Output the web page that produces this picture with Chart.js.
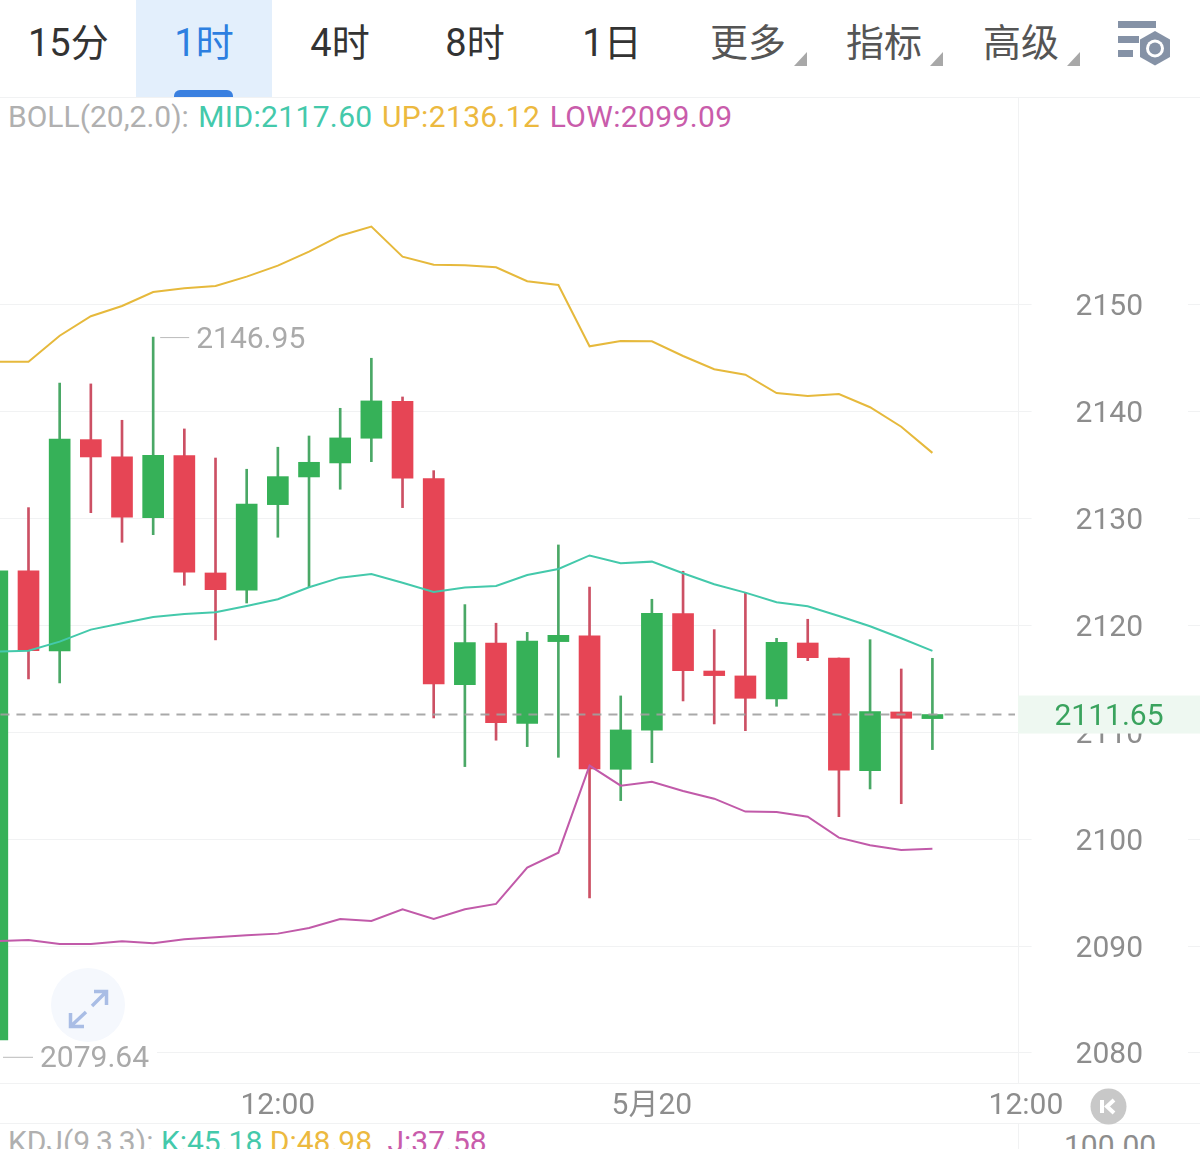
<!DOCTYPE html>
<html>
<head>
<meta charset="utf-8">
<title>1时 K线</title>
<script src="https://cdn.jsdelivr.net/npm/chart.js@4"></script>
<style>
    html, body { margin: 0; padding: 0; background: #fff; width: 1200px; height: 1149px; overflow: hidden; }
    body { position: relative; font-family: Roboto, "Noto Sans CJK SC", sans-serif; }
    .tab { position: absolute; top: 0; height: 86px; line-height: 86px; font-size: 38px; color: #333; text-align: center; white-space: nowrap; }
    .tab.more { color: #555; }
    .selected { position: absolute; left: 136px; top: 0; width: 136px; height: 97px; background: #e3effc; }
    .underline { position: absolute; left: 174px; top: 90px; width: 59px; height: 7px; background: #3a80e0; border-radius: 6px 6px 0 0; }
    .corner { position: absolute; top: 52px; width: 0; height: 0; border-left: 13px solid transparent; border-bottom: 14px solid #a8a8a8; }
    .hline { position: absolute; left: 0; width: 1200px; height: 1px; background: #f1f2f3; }
    .vline { position: absolute; left: 1018px; width: 1px; background: #f1f2f3; }
    .info { position: absolute; left: 8px; font-size: 30px; line-height: 36px; white-space: nowrap; color: #b0b0b0; }
    .boll span { letter-spacing: 0.35px; margin-left: 2px; }
    #chartBox { position: absolute; left: 0; top: 98px; width: 1200px; height: 1025px; }
    svg { position: absolute; }
</style>
</head>
<body>
<div class="selected"></div>
<div class="underline"></div>
<div class="tab" style="left:28px;width:79px">15分</div>
<div class="tab" style="left:174px;width:60px;color:#2d7fe0">1时</div>
<div class="tab" style="left:310px;width:60px">4时</div>
<div class="tab" style="left:445px;width:60px">8时</div>
<div class="tab" style="left:582px;width:60px">1日</div>
<div class="tab more" style="left:710px;width:76px">更多</div>
<div class="tab more" style="left:846px;width:76px">指标</div>
<div class="tab more" style="left:983px;width:76px">高级</div>
<div class="corner" style="left:794px"></div>
<div class="corner" style="left:930px"></div>
<div class="corner" style="left:1067px"></div>
<svg style="left:1110px;top:14px" width="70" height="60" viewBox="1110 14 70 60">
    <rect x="1118" y="21" width="38" height="7" fill="#8592a6"/>
    <rect x="1118" y="36" width="21" height="7" fill="#8592a6"/>
    <rect x="1118" y="50" width="15" height="7" fill="#8592a6"/>
    <polygon points="1155,31 1170,39.5 1170,57 1155,65.5 1140,57 1140,39.5" fill="#8592a6"/>
    <circle cx="1155" cy="48.5" r="9" fill="#fff"/>
    <circle cx="1155" cy="48.5" r="6" fill="#8592a6"/>
</svg>

<div class="hline" style="top:97px"></div>
<div class="hline" style="top:1083px"></div>
<div class="hline" style="top:1123px"></div>
<div class="vline" style="top:98px;height:985px"></div>
<div class="vline" style="top:1124px;height:25px"></div>

<div class="info boll" style="top:99px">BOLL(20,2.0): <span style="color:#44c9ab">MID:2117.60</span> <span style="color:#ecb93f">UP:2136.12</span> <span style="color:#c95cab">LOW:2099.09</span></div>
<div class="info" style="top:1124px">KDJ(9,3,3): <span style="color:#44c9ab">K:45.18</span> <span style="color:#ecb93f">D:48.98</span> <span style="color:#c95cab;margin-left:8px">J:37.58</span></div>
<div class="info" style="left:1064px;top:1128px;color:#8d8d8d">100.00</div>

<div id="chartBox"><canvas id="kline" width="1200" height="1025"></canvas></div>

<svg style="left:50px;top:967px" width="76" height="76" viewBox="50 967 76 76">
    <circle cx="88" cy="1005" r="37" fill="#f5f8fd"/>
    <path d="M92 1006 L106 992 M94 991.5 L106.5 991.5 L106.5 1005" stroke="#a9bde5" stroke-width="3.5" fill="none"/>
    <path d="M86 1012 L71 1026 M70.5 1013 L70.5 1026.5 L84 1026.5" stroke="#a9bde5" stroke-width="3.5" fill="none"/>
</svg>
<svg style="left:1090px;top:1088px" width="37" height="37" viewBox="1090 1088 37 37">
    <circle cx="1108.5" cy="1106.5" r="18" fill="#c8c8c8"/>
    <path d="M1102 1100 L1102 1113 M1114 1100 L1107 1106.5 L1114 1113" stroke="#fff" stroke-width="4" fill="none"/>
</svg>

<script>
// candle positions, 0 is the one cut off at the left edge
const candleIndex = [0, 1, 2, 3, 4, 5, 6, 7, 8, 9, 10, 11, 12, 13, 14, 15, 16, 17, 18, 19, 20, 21, 22, 23, 24, 25, 26, 27, 28, 29, 30];

const opens = [2081.22, 2125.08, 2117.60, 2137.36, 2135.74, 2130.06, 2135.86, 2124.89, 2123.27, 2131.28, 2133.87, 2135.18, 2137.49, 2140.95, 2133.71, 2114.44, 2118.34, 2110.83, 2118.47, 2119.00, 2106.53, 2110.18, 2121.08, 2115.72, 2115.26, 2113.11, 2118.34, 2116.94, 2106.40, 2111.89, 2111.27];
const closes = [2125.08, 2117.62, 2137.42, 2135.74, 2130.10, 2135.90, 2124.96, 2123.33, 2131.34, 2133.90, 2135.24, 2137.52, 2140.98, 2133.75, 2114.51, 2118.37, 2110.89, 2118.53, 2119.06, 2106.56, 2110.21, 2121.12, 2115.75, 2115.29, 2113.17, 2118.41, 2116.97, 2106.44, 2111.92, 2111.30, 2111.65];
const highs = [2125.50, 2131.00, 2142.66, 2142.57, 2139.17, 2146.95, 2138.36, 2135.64, 2134.59, 2136.65, 2137.70, 2140.29, 2144.97, 2141.35, 2134.46, 2121.93, 2120.19, 2119.34, 2127.51, 2123.58, 2113.39, 2122.43, 2125.05, 2119.59, 2123.05, 2118.78, 2120.56, 2116.94, 2118.65, 2115.91, 2116.91];
const lows = [2079.64, 2114.98, 2114.60, 2130.53, 2127.76, 2128.47, 2123.74, 2118.63, 2122.08, 2128.23, 2123.61, 2132.72, 2135.30, 2131.00, 2111.33, 2106.78, 2109.25, 2108.65, 2107.65, 2094.50, 2103.60, 2107.15, 2112.92, 2110.77, 2110.14, 2112.42, 2116.69, 2102.10, 2104.69, 2103.31, 2108.37];

const bollMid = [2117.53, 2117.62, 2118.47, 2119.59, 2120.19, 2120.78, 2121.06, 2121.21, 2121.80, 2122.43, 2123.55, 2124.45, 2124.80, 2123.98, 2123.11, 2123.52, 2123.67, 2124.70, 2125.26, 2126.53, 2125.80, 2125.95, 2124.86, 2123.83, 2123.05, 2122.15, 2121.78, 2120.87, 2119.91, 2118.78, 2117.60];
const bollUp = [2144.65, 2144.65, 2147.08, 2148.90, 2149.86, 2151.17, 2151.52, 2151.73, 2152.60, 2153.63, 2154.94, 2156.43, 2157.28, 2154.47, 2153.72, 2153.67, 2153.48, 2152.17, 2151.82, 2146.09, 2146.59, 2146.56, 2145.18, 2143.94, 2143.43, 2141.72, 2141.44, 2141.63, 2140.39, 2138.57, 2136.12];
const bollLow = [2090.47, 2090.57, 2090.19, 2090.19, 2090.45, 2090.26, 2090.63, 2090.82, 2091.01, 2091.16, 2091.69, 2092.53, 2092.35, 2093.44, 2092.53, 2093.44, 2093.94, 2097.33, 2098.73, 2106.87, 2105.00, 2105.37, 2104.50, 2103.78, 2102.57, 2102.54, 2102.10, 2100.14, 2099.43, 2098.98, 2099.09];

const priceTicks = [2080, 2090, 2100, 2110, 2120, 2130, 2140, 2150];
const timeTicks = [9, 21, 33];
const timeLabels = ['12:00', '5月20', '12:00'];
const lastPrice = 2111.65;
const maxMark = { index: 5, value: 2146.95 };
const minMark = { index: 0, value: 2079.64 };

const RED = '#e64555';
const GREEN = '#36b158';
const WICK_RED = '#cc5064';
const WICK_GREEN = '#4aa866';
const labelFont = { family: 'Roboto, "Noto Sans CJK SC", sans-serif', size: 30 };

const isUp = candleIndex.map(i => closes[i] >= opens[i]);

// max / min labels and the last price box
const overlay = {
    id: 'overlay',
    afterDraw(chart) {
        const ctx = chart.ctx;
        const x = chart.scales.x;
        const y = chart.scales.y;
        ctx.save();
        ctx.font = '30px Roboto, "Noto Sans CJK SC", sans-serif';
        ctx.textBaseline = 'middle';

        const yMax = y.getPixelForValue(maxMark.value);
        const xMax = x.getPixelForValue(maxMark.index);
        ctx.strokeStyle = '#bbbbbb';
        ctx.lineWidth = 1;
        ctx.beginPath();
        ctx.moveTo(xMax + 7, yMax + 0.5);
        ctx.lineTo(xMax + 36, yMax + 0.5);
        ctx.stroke();
        ctx.fillStyle = '#aaaaaa';
        ctx.fillText(maxMark.value.toFixed(2), xMax + 43, yMax + 3);

        const yMin = y.getPixelForValue(minMark.value);
        ctx.fillStyle = '#ffffff';
        ctx.fillRect(0, yMin - 15, 157, 30);
        ctx.beginPath();
        ctx.moveTo(3, yMin + 0.5);
        ctx.lineTo(33, yMin + 0.5);
        ctx.stroke();
        ctx.fillStyle = '#aaaaaa';
        ctx.fillText(minMark.value.toFixed(2), 40, yMin + 3);

        const yLast = y.getPixelForValue(lastPrice);
        ctx.fillStyle = '#eef8f1';
        ctx.fillRect(1018, yLast - 19, 182, 38);
        ctx.fillStyle = '#3aa35e';
        ctx.textAlign = 'center';
        ctx.fillText(lastPrice.toFixed(2), 1109, yLast + 3);
        ctx.restore();
    }
};

new Chart(document.getElementById('kline'), {
    type: 'bar',
    plugins: [overlay],
    data: {
        datasets: [
            {
                type: 'line',
                label: 'last',
                data: [{ x: 0.1, y: lastPrice }, { x: 32.65, y: lastPrice }],
                borderColor: 'rgba(160, 160, 160, 0.9)',
                borderWidth: 2,
                borderDash: [9, 7],
                pointRadius: 0,
                order: 0
            },
            {
                type: 'line',
                label: 'MID',
                data: candleIndex.map(i => ({ x: i, y: bollMid[i] })),
                borderColor: '#44c9ab',
                borderWidth: 2,
                pointRadius: 0,
                tension: 0,
                order: 1
            },
            {
                type: 'line',
                label: 'UP',
                data: candleIndex.map(i => ({ x: i, y: bollUp[i] })),
                borderColor: '#e6b93c',
                borderWidth: 2,
                pointRadius: 0,
                tension: 0,
                order: 1
            },
            {
                type: 'line',
                label: 'LOW',
                data: candleIndex.map(i => ({ x: i, y: bollLow[i] })),
                borderColor: '#c15aa9',
                borderWidth: 2,
                pointRadius: 0,
                tension: 0,
                order: 1
            },
            {
                label: 'body',
                data: candleIndex.map(i => ({ x: i, y: [opens[i], closes[i]] })),
                backgroundColor: isUp.map(up => up ? GREEN : RED),
                barThickness: 21,
                grouped: false,
                order: 2
            },
            {
                label: 'wick',
                data: candleIndex.map(i => ({ x: i, y: [lows[i], highs[i]] })),
                backgroundColor: isUp.map(up => up ? WICK_GREEN : WICK_RED),
                barThickness: 2,
                grouped: false,
                order: 3
            }
        ]
    },
    options: {
        responsive: false,
        animation: false,
        events: [],
        layout: { padding: 0 },
        plugins: {
            legend: { display: false },
            tooltip: { enabled: false }
        },
        scales: {
            x: {
                type: 'linear',
                offset: false,
                min: 0.0857,
                max: 38.585,
                grid: { display: false },
                border: { display: false },
                afterBuildTicks: axis => {
                    axis.ticks = timeTicks.map(v => ({ value: v }));
                },
                afterFit: axis => {
                    axis.height = 40;
                    axis.paddingLeft = axis.paddingRight = 0;
                },
                ticks: {
                    autoSkip: false,
                    maxRotation: 0,
                    padding: -3,
                    font: labelFont,
                    color: '#8d8d8d',
                    callback: value => timeLabels[timeTicks.indexOf(value)]
                }
            },
            y: {
                type: 'linear',
                position: 'right',
                min: 2077.19,
                max: 2169.31,
                grid: { color: '#f1f2f3', drawTicks: false },
                border: { display: false },
                afterBuildTicks: axis => {
                    axis.ticks = priceTicks.map(v => ({ value: v }));
                },
                afterFit: axis => {
                    axis.width = 0;
                    axis.paddingTop = axis.paddingBottom = 0;
                },
                ticks: {
                    mirror: true,
                    padding: -57,
                    labelOffset: 3,
                    font: labelFont,
                    color: '#8d8d8d',
                    showLabelBackdrop: true,
                    backdropColor: '#ffffff',
                    backdropPadding: { left: 44, right: 45, top: 0, bottom: 0 },
                    callback: value => String(value)
                }
            }
        }
    }
});
</script>
</body>
</html>
